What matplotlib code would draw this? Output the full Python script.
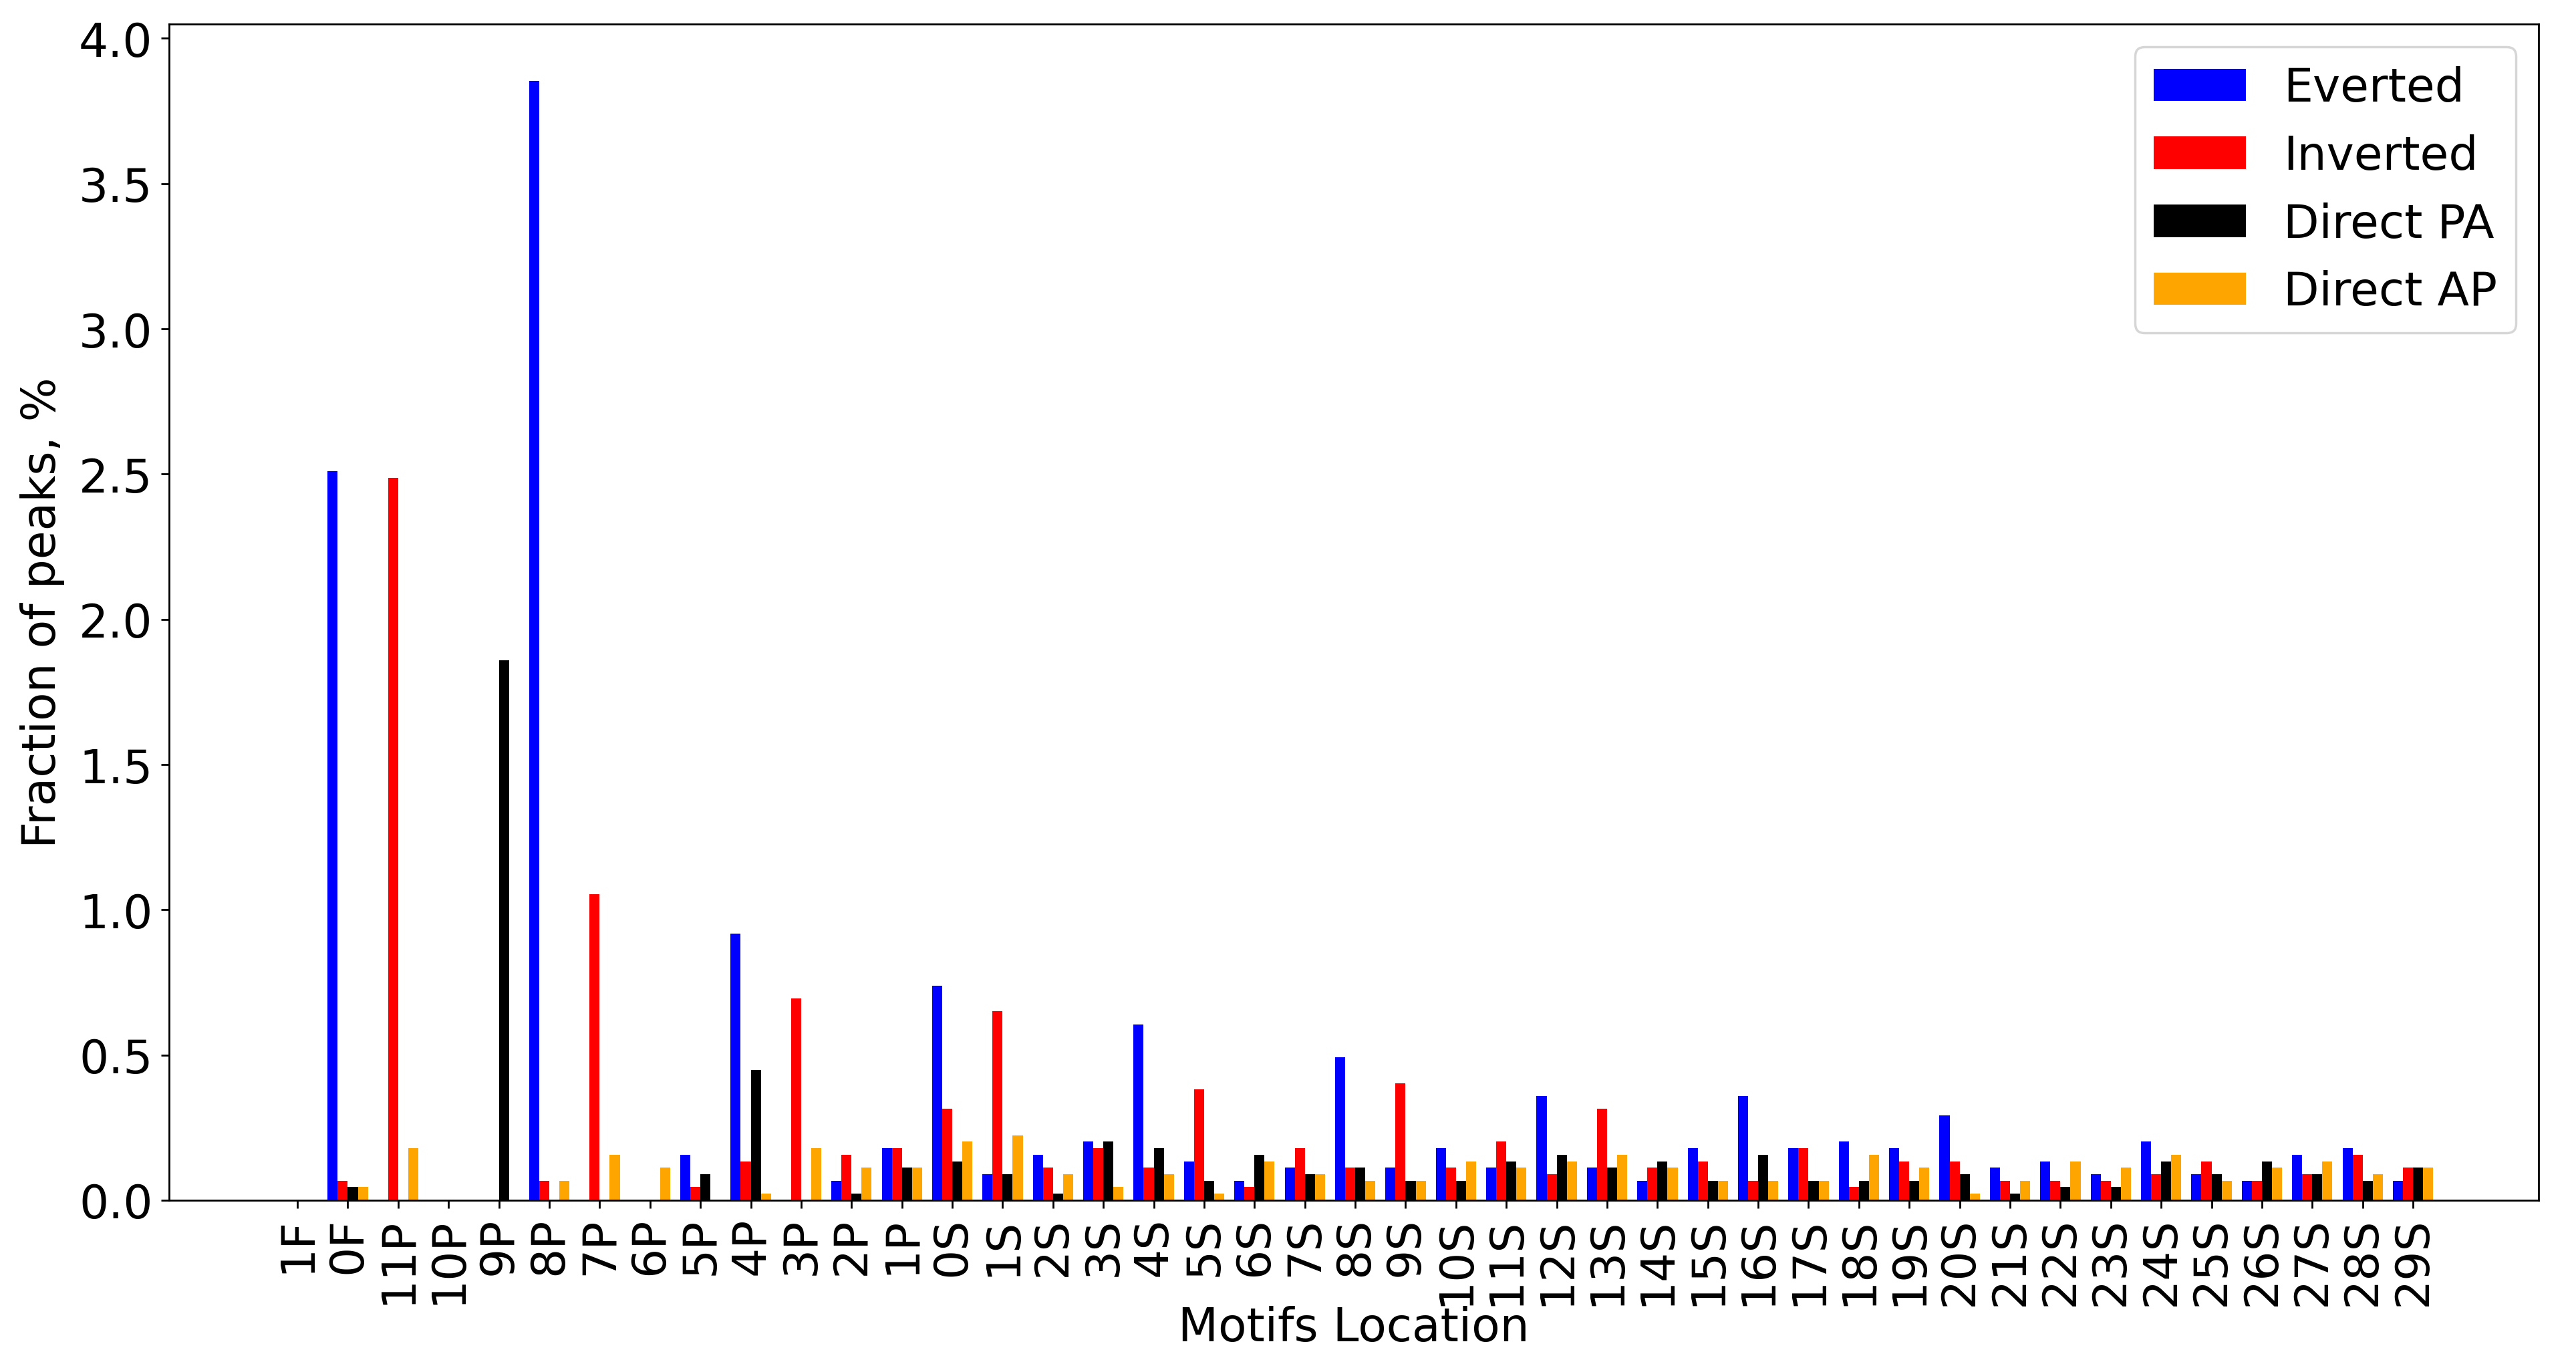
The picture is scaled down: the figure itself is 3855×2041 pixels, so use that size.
#!/usr/bin/env python3
"""
Motif location bar chart
"""

import numpy as np
import matplotlib
matplotlib.use('Agg')
import matplotlib.pyplot as plt


OUTPUT_PLOT = 'out.png'

locations = ['1F', '0F', '11P', '10P', '9P', '8P', '7P', '6P', '5P', '4P', '3P', '2P', '1P'] + \
    [f'{i}S' for i in range(30)]

everted = [0, 2.510, 0, 0, 0, 3.854, 0, 0, 0.157, 0.919, 0, 0.067, 0.179,
           0.739, 0.090, 0.157, 0.202, 0.605, 0.134, 0.067, 0.112, 0.493, 0.112, 0.179,
           0.112, 0.358, 0.112, 0.067, 0.179, 0.358, 0.179, 0.202, 0.179, 0.291,
           0.112, 0.134, 0.090, 0.202, 0.090, 0.067, 0.157, 0.179, 0.067]
inverted = [0, 0.067, 2.487, 0, 0, 0.067, 1.053, 0, 0.045, 0.134, 0.694, 0.157, 0.179,
            0.314, 0.650, 0.112, 0.179, 0.112, 0.381, 0.045, 0.179, 0.112, 0.403, 0.112,
            0.202, 0.090, 0.314, 0.112, 0.134, 0.067, 0.179, 0.045, 0.134, 0.134,
            0.067, 0.067, 0.067, 0.090, 0.134, 0.067, 0.090, 0.157, 0.112]
direct_pa = [0, 0.045, 0, 0, 1.860, 0, 0, 0, 0.090, 0.448, 0, 0.022, 0.112,
             0.134, 0.090, 0.022, 0.202, 0.179, 0.067, 0.157, 0.090, 0.112, 0.067, 0.067,
             0.134, 0.157, 0.112, 0.134, 0.067, 0.157, 0.067, 0.067, 0.067, 0.090,
             0.022, 0.045, 0.045, 0.134, 0.090, 0.134, 0.090, 0.067, 0.112]
direct_ap = [0, 0.045, 0.179, 0, 0, 0.067, 0.157, 0.112, 0, 0.022, 0.179, 0.112, 0.112,
             0.202, 0.224, 0.090, 0.045, 0.090, 0.022, 0.134, 0.090, 0.067, 0.067, 0.134,
             0.112, 0.134, 0.157, 0.112, 0.067, 0.067, 0.067, 0.157, 0.112, 0.022,
             0.067, 0.134, 0.112, 0.157, 0.067, 0.112, 0.134, 0.090, 0.112]

series = [('Everted', everted, 'blue'),
          ('Inverted', inverted, 'red'),
          ('Direct PA', direct_pa, 'black'),
          ('Direct AP', direct_ap, 'orange')]


def plot():
    fig = plt.figure(figsize=(15.42, 8.168), dpi=250)
    ax = fig.add_axes([0.0656, 0.12, 0.92, 0.862])

    x = np.arange(len(locations))
    width = 0.2
    offsets = [-0.3, -0.1, 0.1, 0.3]
    for (name, vals, color), off in zip(series, offsets):
        ax.bar(x + off, vals, width, color=color, label=name)

    ax.set_xticks(x)
    ax.set_xticklabels(locations, rotation=90, fontsize=20)
    ax.tick_params(axis='y', labelsize=20)
    ax.set_xlim(-2.55, 44.5)
    ax.set_ylim(0, 4.05)
    ax.set_yticks(np.arange(0, 4.01, 0.5))
    ax.set_xlabel('Motifs Location', fontsize=20, labelpad=0)
    ax.set_ylabel('Fraction of peaks, %', fontsize=20, labelpad=6)
    ax.legend(loc='upper right', fontsize=20)

    fig.savefig(OUTPUT_PLOT, dpi=250)


if __name__ == '__main__':
    plot()
